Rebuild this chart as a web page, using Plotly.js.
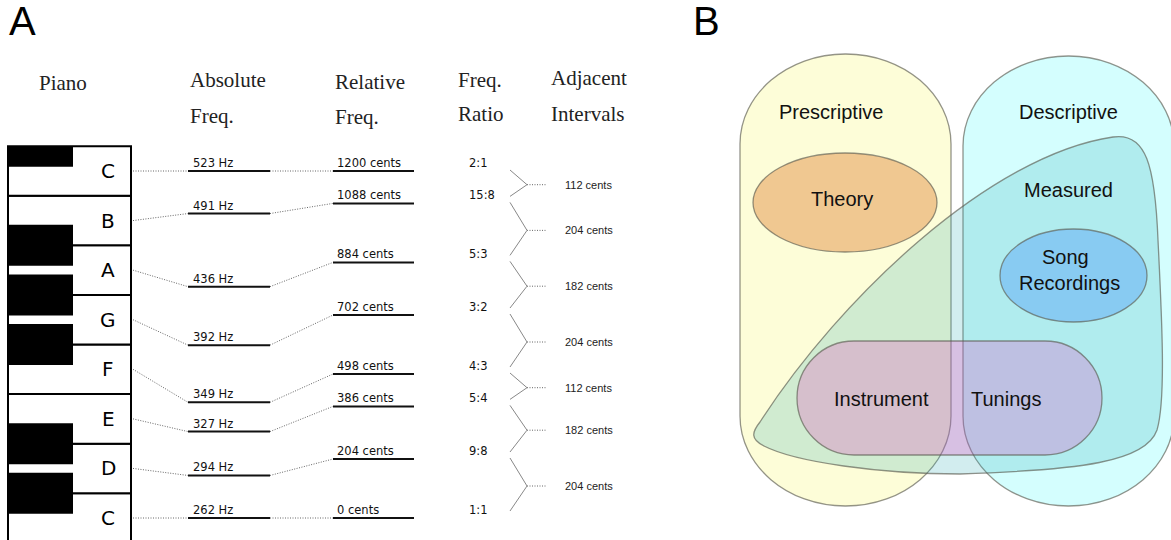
<!DOCTYPE html>
<html><head><meta charset="utf-8">
<script src="https://cdn.plot.ly/plotly-3.0.1.min.js"></script>
<style>html,body{margin:0;padding:0;background:#fff;}#chart{width:1171px;height:540px;}</style>
</head><body><div id="chart"></div>
<script>
// ---------------- DATA ----------------
// Panel A, listed bottom -> top
const notes = ['C','D','E','F','G','A','B','C'];
const absoluteHz = [262, 294, 327, 349, 392, 436, 491, 523];
const relativeCents = [0, 204, 386, 498, 702, 884, 1088, 1200];
const freqRatios = ['1:1','9:8','5:4','4:3','3:2','5:3','15:8','2:1'];
const adjacentIntervals = [204, 182, 112, 204, 182, 204, 112];
const headerLines = [['Piano'], ['Absolute','Freq.'], ['Relative','Freq.'], ['Freq.','Ratio'], ['Adjacent','Intervals']];
const panelLetters = ['A','B'];
// Panel B
const vennLabels = ['Prescriptive','Descriptive','Measured','Theory','Song Recordings','Instrument Tunings'];

// ---------------- LAYOUT GEOMETRY ----------------
const W = 1171, H = 540;
const PX = 1200 / 347;              // cents per pixel on the main axis
const yMin = -22 * PX, yMax = yMin + H * PX;
const octave = relativeCents[relativeCents.length - 1];
const hzToAxis = h => (h - absoluteHz[0]) / (absoluteHz[absoluteHz.length - 1] - absoluteHz[0]) * octave;
const keyStep = octave / (notes.length - 1);

const col = {keyL: 8, keyR: 131, blackR: 73, letter: 108, hz0: 188, hz1: 270, c0: 333, c1: 414,
             ratio: 467, br0: 510, br1: 527, stub: 547, interval: 563};
const headerX = [37, 188, 333, 456, 549];
const headerY = [[83], [80, 116], [82, 117], [80, 114], [78, 114]];

const shapes = [], annotations = [], traces = [];
const sansLib = 'Liberation Sans, Arial, sans-serif';
const dejavu = 'DejaVu Sans, sans-serif';

// ---- piano ----
notes.forEach((n, i) => {
  const c = i * keyStep;
  shapes.push({type: 'rect', xref: 'x', yref: 'y', x0: col.keyL, x1: col.keyR,
    y0: c - keyStep / 2, y1: c + keyStep / 2, fillcolor: '#fff', line: {color: '#000', width: 2}});
});
notes.forEach((n, i) => {
  if (n === 'E' || n === 'B') return;
  const b = (i + 0.5) * keyStep;
  const half = 20.5 * PX;
  const top = i === notes.length - 1 ? b : b + half;
  shapes.push({type: 'rect', xref: 'x', yref: 'y', x0: col.keyL, x1: col.blackR,
    y0: b - half, y1: top, fillcolor: '#000', line: {width: 0}});
});
notes.forEach((n, i) => {
  annotations.push({x: col.letter, y: i * keyStep, xref: 'x', yref: 'y', text: n, showarrow: false,
    xanchor: 'center', yanchor: 'middle', font: {family: dejavu, size: 20, color: '#000'}});
});

// ---- frequency lines ----
const solidX = [], solidY = [], dotX = [], dotY = [], brX = [], brY = [];
notes.forEach((n, i) => {
  const hy = hzToAxis(absoluteHz[i]), cy = relativeCents[i];
  solidX.push(col.hz0, col.hz1, null, col.c0, col.c1, null);
  solidY.push(hy, hy, null, cy, cy, null);
  dotX.push(col.keyR + 2, col.hz0, null, col.hz1, col.c0, null);
  dotY.push(i * keyStep, hy, null, hy, cy, null);
  annotations.push({x: col.hz0 + 3, y: hy, yshift: 8, xref: 'x', yref: 'y', text: absoluteHz[i] + ' Hz',
    showarrow: false, xanchor: 'left', yanchor: 'middle', font: {family: dejavu, size: 11.5, color: '#111'}});
  annotations.push({x: col.c0 + 2, y: cy, yshift: 8, xref: 'x', yref: 'y', text: relativeCents[i] + ' cents',
    showarrow: false, xanchor: 'left', yanchor: 'middle', font: {family: dejavu, size: 11.5, color: '#111'}});
  annotations.push({x: col.ratio, y: cy, yshift: 8, xref: 'x', yref: 'y', text: freqRatios[i],
    showarrow: false, xanchor: 'left', yanchor: 'middle', font: {family: dejavu, size: 11.5, color: '#111'}});
});
adjacentIntervals.forEach((v, i) => {
  const lo = relativeCents[i] + 7 * PX, hi = relativeCents[i + 1] + 1 * PX;
  const mid = (lo + hi) / 2 - 1.5 * PX;
  brX.push(col.br0, col.br1, col.br0, null);
  brY.push(hi, mid, lo, null);
  dotX.push(col.br1, col.stub, null);
  dotY.push(mid, mid, null);
  annotations.push({x: col.interval, y: mid, xref: 'x', yref: 'y', text: v + ' cents', showarrow: false,
    xanchor: 'left', yanchor: 'middle', font: {family: sansLib, size: 11, color: '#222'}});
});
traces.push({x: dotX, y: dotY, mode: 'lines', line: {color: '#666', width: 1, dash: '1px,1.5px'}, hoverinfo: 'skip', connectgaps: false});
traces.push({x: brX, y: brY, mode: 'lines', line: {color: '#888', width: 1}, hoverinfo: 'skip', connectgaps: false});
traces.push({x: solidX, y: solidY, mode: 'lines', line: {color: '#111', width: 2}, hoverinfo: 'skip', connectgaps: false});

// ---- headers ----
headerLines.forEach((lines, j) => {
  lines.forEach((t, k) => {
    annotations.push({x: headerX[j], y: headerY[j][k], xref: 'x', yref: 'y2', text: t, showarrow: false,
      xanchor: 'left', yanchor: 'middle', font: {family: 'Liberation Serif, Times New Roman, serif', size: 21, color: '#222'}});
  });
});
[[22, 21], [706, 21]].forEach((p, j) => {
  annotations.push({x: p[0], y: p[1], xref: 'x', yref: 'y2', text: panelLetters[j], showarrow: false,
    xanchor: 'center', yanchor: 'middle', font: {family: sansLib, size: 40, color: '#000'}});
});

// ---- Venn (panel B) ----
const K = 0.5523;
function roundRect(x0, y0, x1, y1, rx, ry) {
  return `M${x0+rx},${y0} L${x1-rx},${y0} C${x1-rx+K*rx},${y0} ${x1},${y0+ry-K*ry} ${x1},${y0+ry} ` +
    `L${x1},${y1-ry} C${x1},${y1-ry+K*ry} ${x1-rx+K*rx},${y1} ${x1-rx},${y1} ` +
    `L${x0+rx},${y1} C${x0+rx-K*rx},${y1} ${x0},${y1-ry+K*ry} ${x0},${y1-ry} ` +
    `L${x0},${y0+ry} C${x0},${y0+ry-K*ry} ${x0+rx-K*rx},${y0} ${x0+rx},${y0} Z`;
}
const stroke = {color: 'rgba(90,90,80,0.65)', width: 1.3};
shapes.push({type: 'path', xref: 'x', yref: 'y2', path: roundRect(740, 54, 951, 506, 105.5, 90), fillcolor: '#fdfdd8', line: stroke});
shapes.push({type: 'path', xref: 'x', yref: 'y2', path: roundRect(963, 56, 1174, 506, 105.5, 90), fillcolor: '#d4fefe', line: stroke});
shapes.push({type: 'path', xref: 'x', yref: 'y2',
  path: 'M760,422 C840,298 990,155 1113,137 C1146,132 1155,165 1158,240 C1162,320 1166,400 1157,430 ' +
        'C1146,462 1080,470 960,474 C880,474 795,462 764,446 C750,439 752,432 760,422 Z',
  fillcolor: 'rgba(50,174,181,0.22)', line: stroke});
shapes.push({type: 'circle', xref: 'x', yref: 'y2', x0: 753, x1: 937, y0: 153, y1: 252, fillcolor: '#f0c891', line: stroke});
shapes.push({type: 'circle', xref: 'x', yref: 'y2', x0: 1000, x1: 1147, y0: 229, y1: 322, fillcolor: '#88cbf2', line: stroke});
shapes.push({type: 'path', xref: 'x', yref: 'y2', path: roundRect(797, 341, 1102, 455, 57, 57), fillcolor: 'rgba(230,60,190,0.25)', line: stroke});

const vennText = [
  [vennLabels[0], 831, 112], [vennLabels[1], 1068, 112], [vennLabels[2], 1068, 190], [vennLabels[3], 842, 199],
  [vennLabels[4].split(' ')[0], 1065, 257], [vennLabels[4].split(' ')[1], 1069, 283],
  [vennLabels[5].split(' ')[0], 881, 399], [vennLabels[5].split(' ')[1], 1006, 399]
];
vennText.forEach(v => annotations.push({x: v[1], y: v[2], xref: 'x', yref: 'y2', text: v[0], showarrow: false,
  xanchor: 'center', yanchor: 'middle', font: {family: sansLib, size: 20, color: '#111'}}));

const layout = {
  width: W, height: H, margin: {l: 0, r: 0, t: 0, b: 0, pad: 0},
  paper_bgcolor: '#fff', plot_bgcolor: 'rgba(0,0,0,0)', showlegend: false,
  xaxis: {range: [0, W], visible: false, fixedrange: true},
  yaxis: {range: [yMin, yMax], visible: false, fixedrange: true},
  yaxis2: {range: [H, 0], visible: false, fixedrange: true, overlaying: 'y'},
  shapes: shapes, annotations: annotations
};
Plotly.newPlot('chart', traces, layout, {staticPlot: true, displayModeBar: false});
</script></body></html>
